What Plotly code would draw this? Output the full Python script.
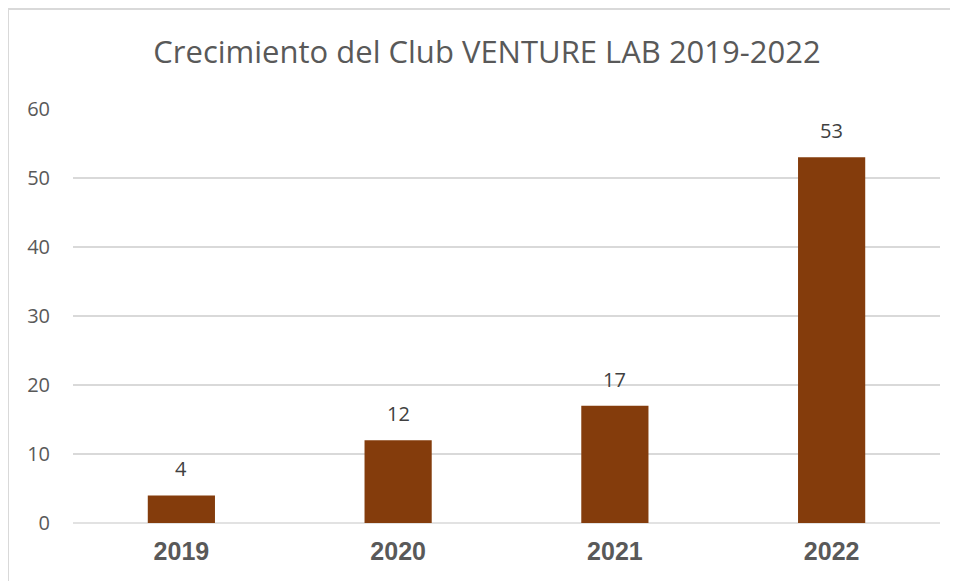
import plotly.graph_objects as go

years = ["2019", "2020", "2021", "2022"]
members = [4, 12, 17, 53]
y_ticks = [0, 10, 20, 30, 40, 50, 60]

# page offset of 8px (browser body margin) is compensated in these margins
L, R, T, B = 65, 26, 101, 66
W, H = 958, 581
pw, ph = W - L - R, H - T - B

fig = go.Figure(go.Bar(
    x=years, y=members, marker=dict(color="#843C0C", line=dict(width=0)),
    hoverinfo="x+y",
))

for i, v in enumerate(members):
    fig.add_annotation(x=i, y=v, text=str(v), showarrow=False,
                       yanchor="bottom", yshift=11,
                       font=dict(family="Open Sans", size=20, color="#404040"))

fig.update_layout(
    width=W, height=H,
    margin=dict(l=L, r=R, t=T, b=B),
    paper_bgcolor="white", plot_bgcolor="white",
    bargap=0.69,
    showlegend=False,
    title=dict(text="Crecimiento del Club VENTURE LAB 2019-2022",
               font=dict(family="Open Sans", size=31, color="#595959"),
               x=0.5, xanchor="center", xref="container", y=1 - 44 / H, yanchor="middle"),
    xaxis=dict(type="category", categoryorder="array", categoryarray=years,
               range=[-0.5, len(years) - 0.5],
               tickfont=dict(family="Liberation Sans", size=25, color="#595959", weight="bold"),
               showgrid=False, showline=False, ticks="", ticklabelstandoff=11),
    yaxis=dict(range=[0, 60], tickvals=y_ticks, showgrid=True, gridcolor="#D9D9D9", gridwidth=1.5,
               zeroline=False, ticks="", ticklabelstandoff=22,
               tickfont=dict(family="Open Sans", size=20, color="#595959")),
    shapes=[
        dict(type="line", xref="paper", yref="paper", x0=0, x1=1, y0=0, y1=0,
             line=dict(color="#D9D9D9", width=1.5), layer="below"),
        dict(type="rect", xref="paper", yref="paper",
             x0=(0 - L) / pw, x1=1.2, y0=-0.5, y1=(H - B - 1) / ph,
             line=dict(color="#D9D9D9", width=2)),
    ],
)

fig.write_html("out.html")
